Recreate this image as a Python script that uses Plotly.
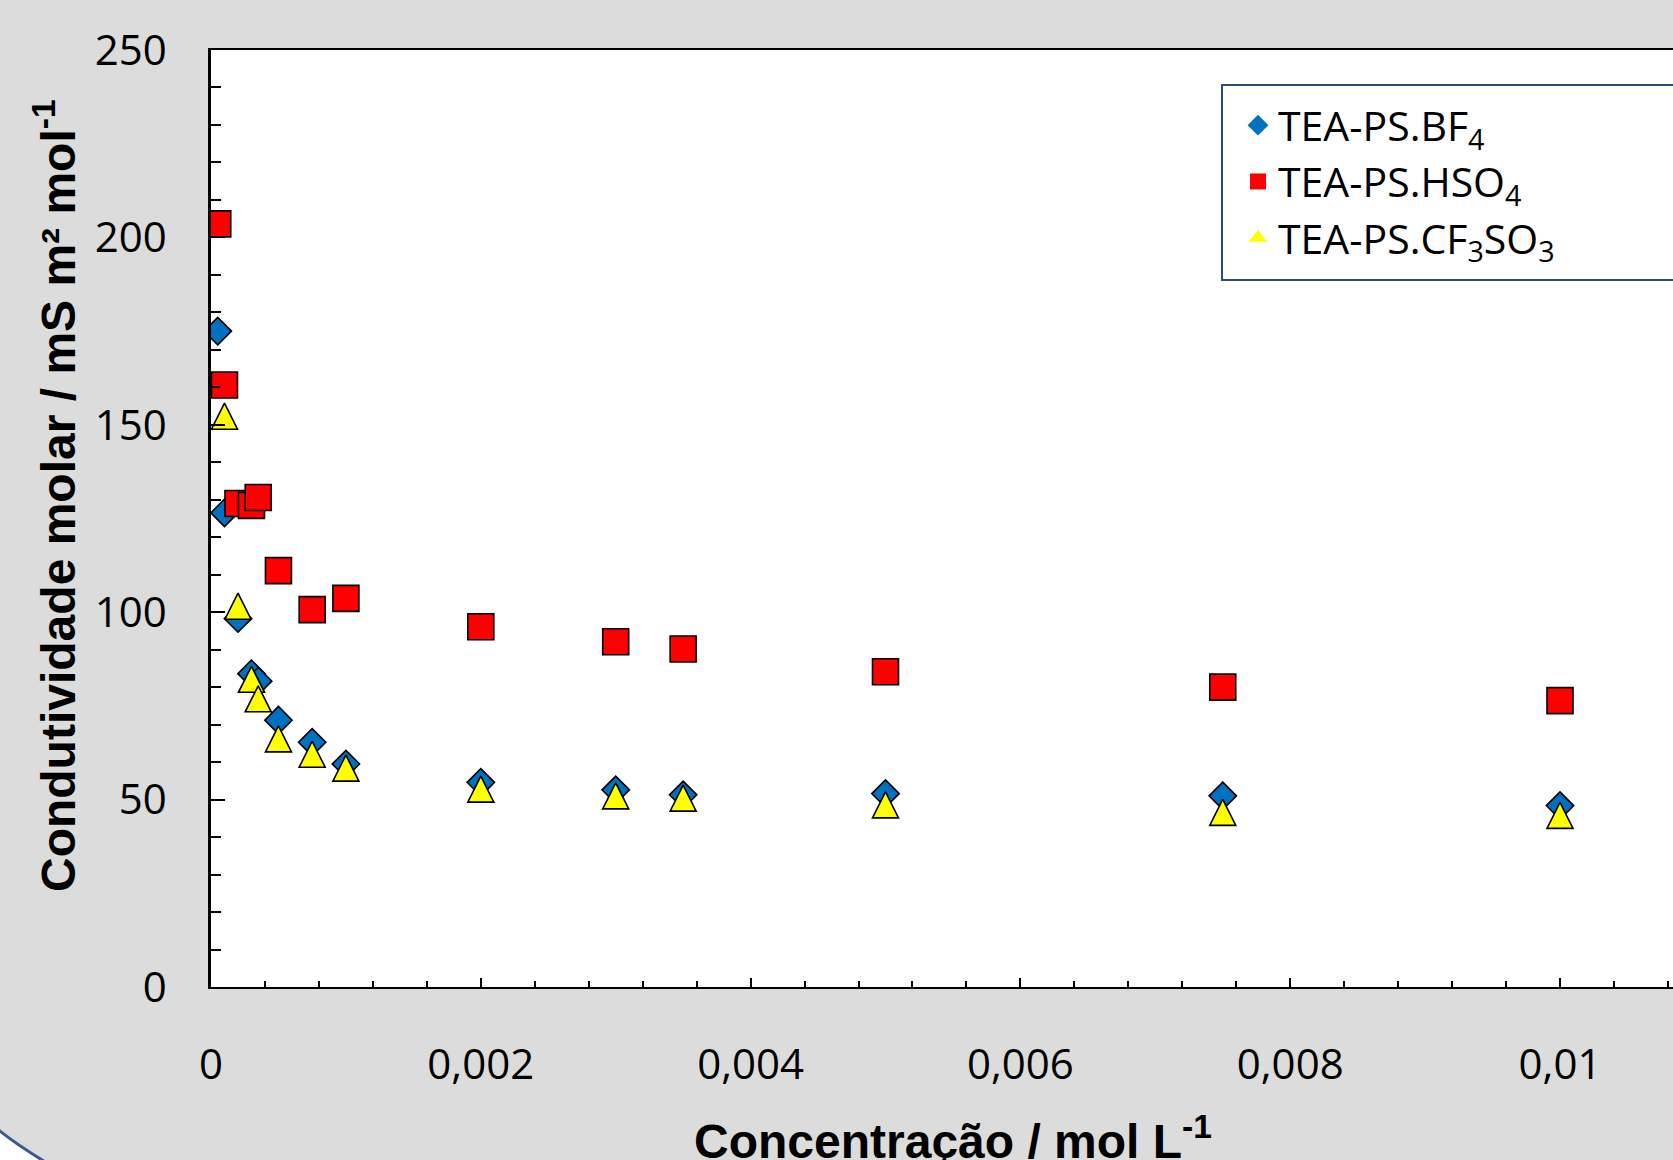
import plotly.graph_objects as go

# ---- data ----
conc = [0.00005, 0.0001, 0.0002, 0.0003, 0.00035, 0.0005, 0.00075, 0.001,
        0.002, 0.003, 0.0035, 0.005, 0.0075, 0.01]
bf4 = [175.0, 126.5, 98.3, 83.6, 81.6, 71.2, 65.3, 59.5,
       54.6, 52.6, 51.3, 51.6, 51.0, 48.4]
hso4 = [203.6, 160.6, 129.0, 128.5, 130.6, 111.1, 100.7, 103.7,
        96.1, 92.1, 90.2, 84.1, 80.0, 76.4]
conc_cf3 = [0.0001, 0.0002, 0.0003, 0.00035, 0.0005, 0.00075, 0.001,
            0.002, 0.003, 0.0035, 0.005, 0.0075, 0.01]
cf3so3 = [152.3, 101.6, 82.1, 76.9, 66.2, 62.1, 58.4,
          52.8, 51.0, 50.4, 48.6, 46.6, 45.8]

names = ["TEA-PS.BF<sub>4</sub>", "TEA-PS.HSO<sub>4</sub>", "TEA-PS.CF<sub>3</sub>SO<sub>3</sub>"]
x_title = "Concentração / mol L<sup>-1</sup>"
y_title = "Condutividade molar / mS m² mol<sup>-1</sup>"

W, H = 1673, 1160
L, T, B = 211, 50, 987          # plot area pixel edges
PW, PH = W - L, B - T

def px(x):
    return (x - L) / PW

def py(y):
    return (B - y) / PH

BLUE, RED, YELLOW = "#0070C0", "#FF0000", "#FFFF00"
TICKFONT = dict(family="Open Sans", size=42, color="black")
TITLEFONT = dict(family="Liberation Sans", size=48, color="black")

fig = go.Figure()

edge = dict(color="black", width=1.6)
fig.add_trace(go.Scatter(x=conc, y=bf4, mode="markers", showlegend=False,
                         marker=dict(symbol="diamond", size=21, color=BLUE, line=edge)))
fig.add_trace(go.Scatter(x=conc, y=hso4, mode="markers", showlegend=False,
                         marker=dict(symbol="square", size=26, color=RED, line=edge)))
fig.add_trace(go.Scatter(x=conc_cf3, y=cf3so3, mode="markers", showlegend=False,
                         marker=dict(symbol="arrow-down", angle=180, standoff=13,
                                     size=26, color=YELLOW, line=edge)))

# legend entries (no outline, as in the reference legend)
for nm, sym, col in [(names[0], "diamond", BLUE),
                     (names[1], "square", RED),
                     (names[2], "triangle-up", YELLOW)]:
    fig.add_trace(go.Scatter(x=[None], y=[None], mode="markers", name=nm,
                             marker=dict(symbol=sym, size=16, color=col,
                                         line=dict(width=0))))

fig.update_layout(
    width=W, height=H,
    margin=dict(l=L, r=0, t=T, b=H - B, pad=0, autoexpand=False),
    paper_bgcolor="#dcdcdc",
    plot_bgcolor="white",
    separators=", ",
    showlegend=True,
    legend=dict(x=px(1238), y=py(92), xanchor="left", yanchor="top",
                bgcolor="rgba(0,0,0,0)", borderwidth=0,
                font=dict(family="Open Sans", size=41, color="black"),
                tracegroupgap=0),
)

x_max = 0.01 * PW / 1349.0
fig.update_xaxes(
    range=[0, x_max], dtick=0.002, tick0=0, automargin=False,
    showline=True, linecolor="black", linewidth=2, mirror=True,
    ticks="inside", ticklen=9, tickwidth=2, tickcolor="black",
    minor=dict(dtick=0.0004, ticks="inside", ticklen=6, tickwidth=1.5, tickcolor="black"),
    showgrid=False, zeroline=False,
    tickfont=TICKFONT, ticklabelstandoff=40,
)
fig.update_yaxes(
    range=[0, 250], dtick=50, tick0=0, automargin=False,
    showline=True, linecolor="black", linewidth=2.5, mirror=False,
    ticks="inside", ticklen=14, tickwidth=2, tickcolor="black",
    minor=dict(dtick=10, ticks="inside", ticklen=10, tickwidth=1.5, tickcolor="black"),
    showgrid=False, zeroline=False,
    tickfont=TICKFONT, ticklabelstandoff=33,
)

# axis titles
fig.add_annotation(text="<b>" + x_title + "</b>", xref="paper", yref="paper",
                   x=px(953), y=py(1138), xanchor="center", yanchor="middle",
                   showarrow=False, font=TITLEFONT)
fig.add_annotation(text="<b>" + y_title + "</b>", xref="paper", yref="paper",
                   x=px(55), y=py(496), xanchor="center", yanchor="middle",
                   textangle=-90, showarrow=False, font=TITLEFONT)

# legend frame
fig.add_shape(type="rect", xref="paper", yref="paper",
              x0=px(1222), x1=px(1690), y0=py(280), y1=py(85),
              line=dict(color="#2f4b7c", width=2), fillcolor="rgba(0,0,0,0)", layer="below")

# slide corner decoration (bottom-left)
p = lambda x, y: f"{px(x)},{py(y)}"
fig.add_shape(type="path", xref="paper", yref="paper",
              path=f"M{p(-4,1128)} Q{p(18,1146)} {p(52,1166)} L{p(-4,1166)} Z",
              fillcolor="white", line=dict(width=0))
fig.add_shape(type="path", xref="paper", yref="paper",
              path=f"M{p(-4,1128)} Q{p(18,1146)} {p(52,1166)}",
              line=dict(color="#3a5c8e", width=3))

fig.write_html("out.html", config={"displayModeBar": False},
               post_script="document.body.style.margin='0';document.body.style.overflow='hidden';")
